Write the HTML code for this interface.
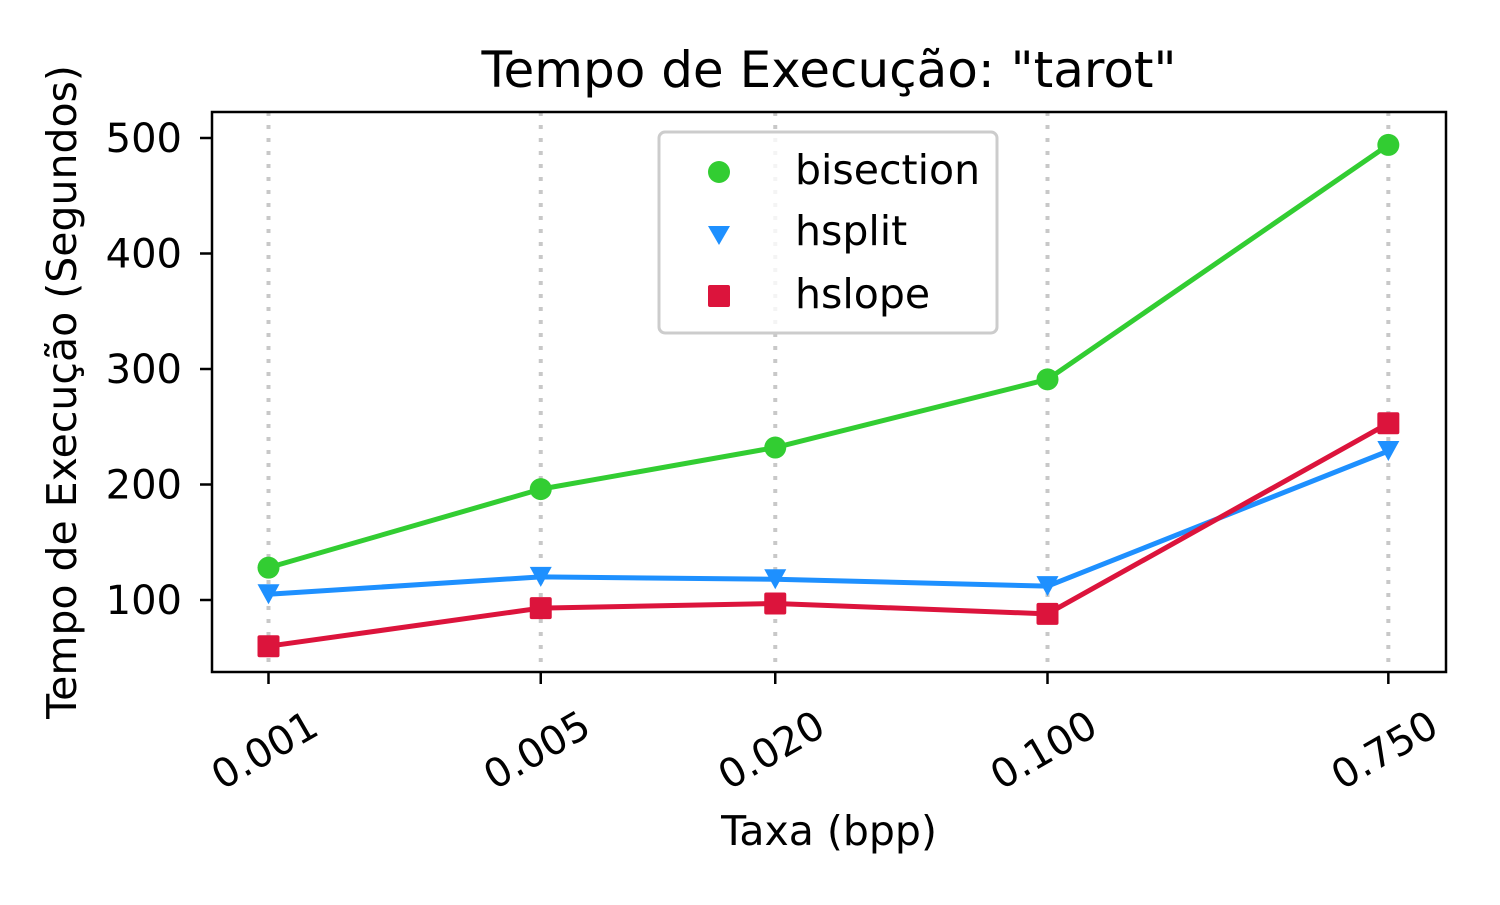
<!DOCTYPE html>
<html><head><meta charset="utf-8"><style>
body{margin:0;background:#fff;}
svg text{font-family:"DejaVu Sans","Liberation Sans",sans-serif;fill:#000;}
</style></head><body>
<svg width="1500" height="900" viewBox="0 0 1500 900">
<rect width="1500" height="900" fill="#fff"/>
<text x="829" y="87" font-size="50" text-anchor="middle">Tempo de Execução: "tarot"</text>
<g id="grid"></g>
<g id="series"></g>
<rect x="212" y="112" width="1234" height="560" fill="none" stroke="#000" stroke-width="2.5"/>
<g id="axes"></g>
<text x="829" y="845" font-size="41" text-anchor="middle">Taxa (bpp)</text>
<text transform="translate(76,392) rotate(-90)" font-size="41" text-anchor="middle">Tempo de Execução (Segundos)</text>
<g>
<rect x="659" y="132" width="338" height="201" rx="6" fill="#fff" fill-opacity="0.8" stroke="#ccc" stroke-width="3"/>
<circle cx="719" cy="172" r="11" fill="#32cd32"/>
<text x="795" y="184" font-size="41">bisection</text>
<polygon points="708,226 730,226 719,245" fill="#1e90ff"/>
<text x="795" y="245" font-size="41">hsplit</text>
<rect x="708" y="285" width="22" height="22" rx="2" fill="#dc143c"/>
<text x="795" y="308" font-size="41">hslope</text>
</g>
</svg>
<script>
const categories=[0.001,0.005,0.020,0.100,0.750];
const tickLabels=["0.001","0.005","0.020","0.100","0.750"];
const yTicks=[100,200,300,400,500];
const bisection=[128,196,232,291,494];
const hsplit=[105,120,118,112,229];
const hslope=[60,93,97,88,253];
const NS="http://www.w3.org/2000/svg";
function xs(v){return 268.5+(Math.log10(v)+3)*389.5;}
function ys(v){return 715.5-v*1.155;}
function mk(tag,attrs,parent){const e=document.createElementNS(NS,tag);for(const k in attrs)e.setAttribute(k,attrs[k]);parent.appendChild(e);return e;}
const grid=document.getElementById('grid'),axes=document.getElementById('axes'),ser=document.getElementById('series');
categories.forEach((c,i)=>{
  const x=xs(c);
  const g=mk('line',{x1:x,x2:x,y1:112,y2:672,stroke:'#c8c8c8','stroke-width':4,'stroke-dasharray':'4,9'},grid);
  
  
  const t=mk('line',{x1:x,x2:x,y1:672,y2:684,stroke:'#000','stroke-width':2.5},axes);
  
  
  const l=mk('text',{transform:`translate(${x+3},${762}) rotate(-30)`,'font-size':40,'text-anchor':'middle'},axes);
  l.textContent=tickLabels[i];
  
  
});
yTicks.forEach(v=>{
  const y=ys(v);
  const t=mk('line',{x1:200,x2:212,y1:y,y2:y,stroke:'#000','stroke-width':2.5},axes);
  
  
  const l=mk('text',{x:182,y:y+14,'font-size':40,'text-anchor':'end'},axes);
  l.textContent=v;
  
  
});
function draw(vals,color,shape,name){
  const g=mk('g',{},ser);
  
  
  const pts=vals.map((v,i)=>xs(categories[i])+','+ys(v)).join(' ');
  const pl=mk('polyline',{points:pts,fill:'none',stroke:color,'stroke-width':5,'stroke-linejoin':'round'},g);
  
  
  vals.forEach((v,i)=>{
    const x=xs(categories[i]),y=ys(v);let m;
    if(shape==='c')m=mk('circle',{cx:x,cy:y,r:11,fill:color},g);
    else if(shape==='t')m=mk('polygon',{points:`${x-11},${y-10} ${x+11},${y-10} ${x},${y+10}`,fill:color},g);
    else m=mk('rect',{x:x-11,y:y-11,width:22,height:22,rx:2,fill:color},g);
    
    
  });
}
draw(bisection,'#32cd32','c','bisection');
draw(hsplit,'#1e90ff','t','hsplit');
draw(hslope,'#dc143c','s','hslope');
</script>
</body></html>
